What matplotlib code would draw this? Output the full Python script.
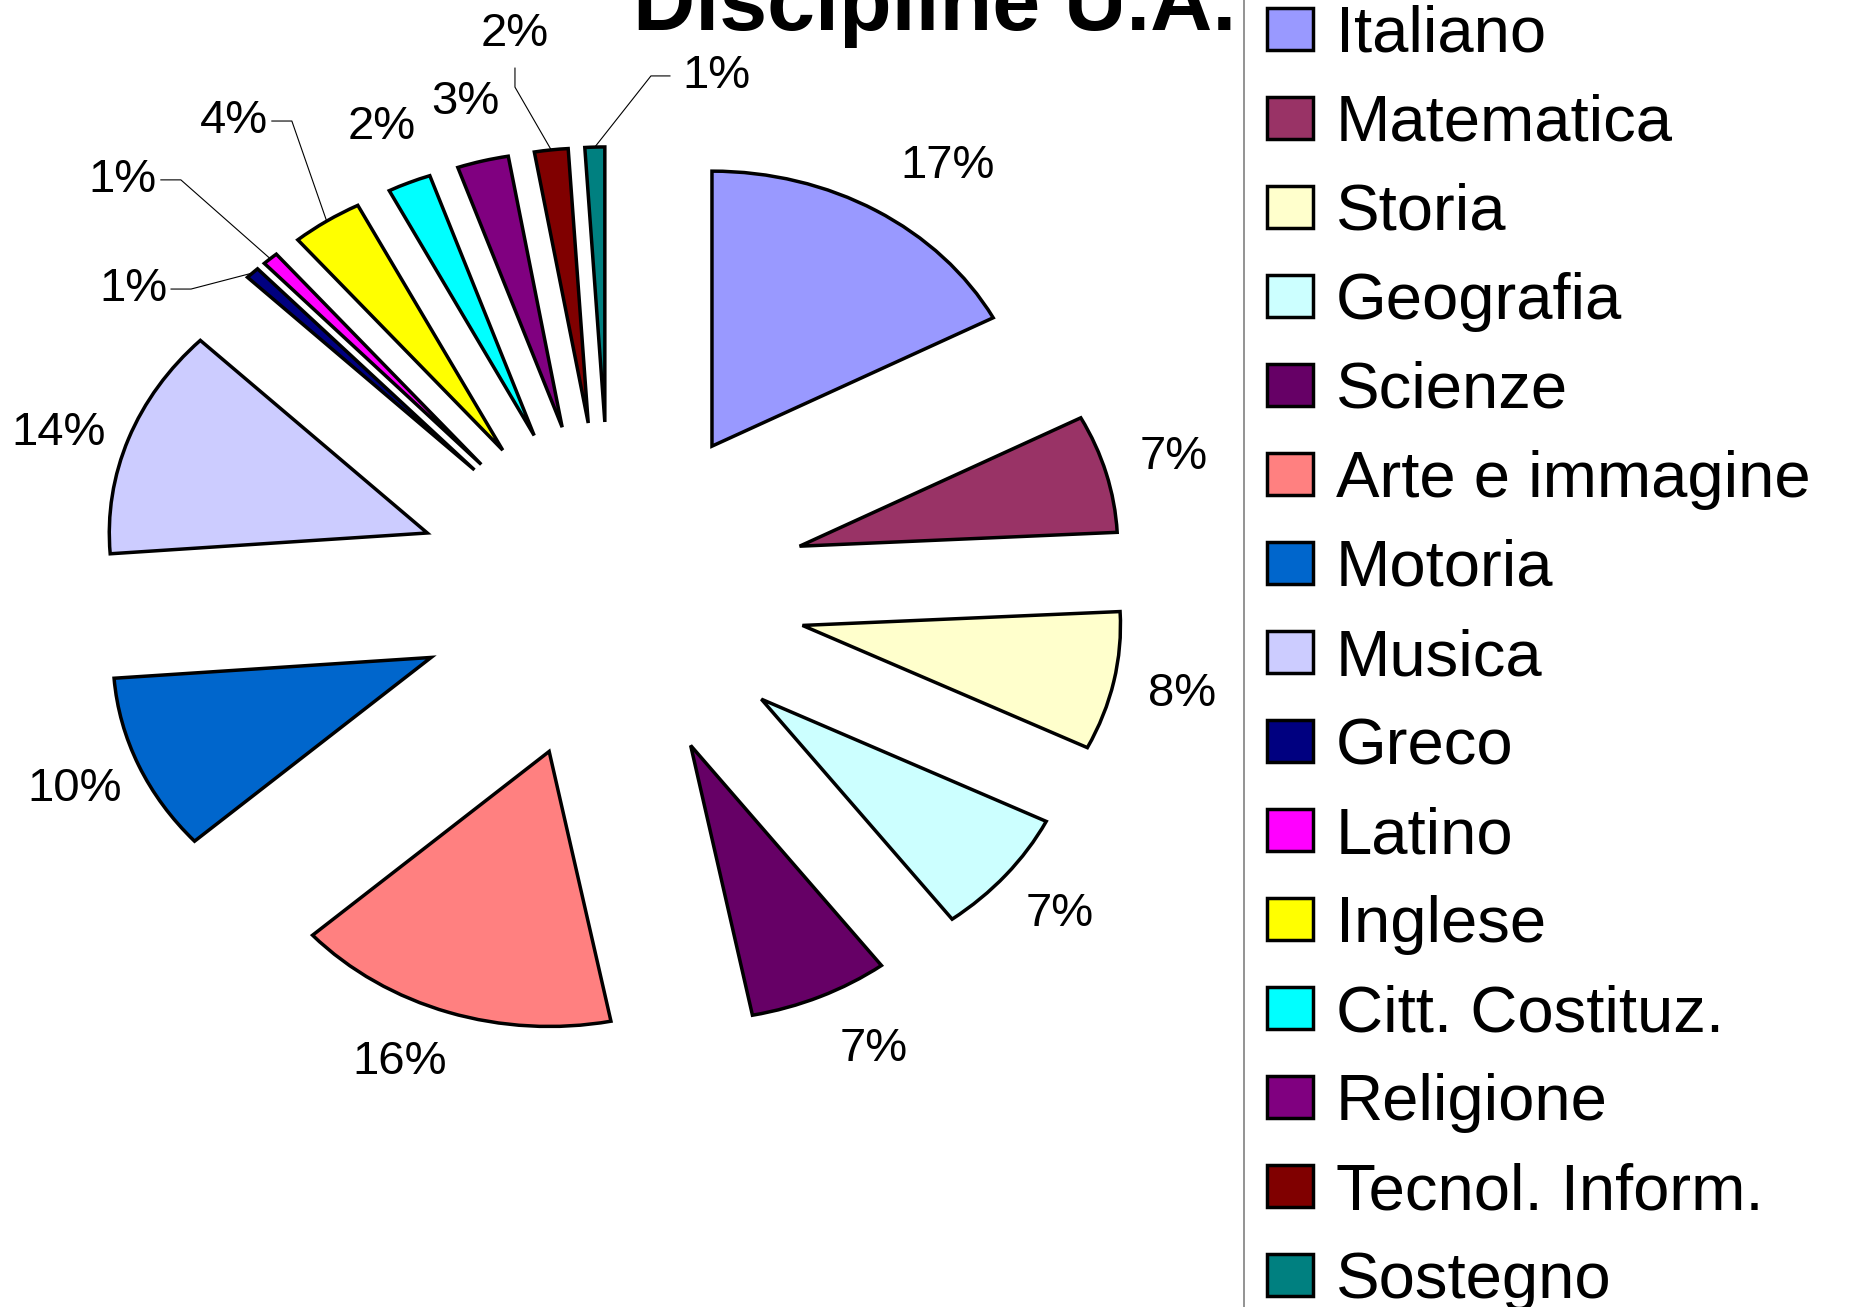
from matplotlib import pyplot as plt
from matplotlib.lines import Line2D
import numpy as np

materie = ['Italiano', 'Matematica', 'Storia', 'Geografia', 'Scienze',
           'Arte e immagine', 'Motoria', 'Musica', 'Greco', 'Latino',
           'Inglese', 'Citt. Costituz.', 'Religione', 'Tecnol. Inform.', 'Sostegno']
quote = [17.2, 6.9, 8.1, 7.4, 7.1, 16.4, 10.4, 13.5, 0.7, 0.8, 3.6, 2.2, 2.6, 1.7, 1.0]
colori = ['#9999FF', '#993366', '#FFFFCC', '#CCFFFF', '#660066', '#FF8080', '#0066CC',
          '#CCCCFF', '#000080', '#FF00FF', '#FFFF00', '#00FFFF', '#800080', '#800000', '#008080']

# etichette spostate a mano: posizione (unita' dati) e lato della linea di richiamo
richiami = {
    'Italiano': (1.057, 1.545, None),
    'Scienze': (0.827, -1.665, None),
    'Arte e immagine': (-0.664, -1.713, None),
    'Musica': (-1.736, 0.575, None),
    'Greco': (-1.503, 1.098, 'dx'),
    'Latino': (-1.535, 1.495, 'dx'),
    'Inglese': (-1.186, 1.709, 'dx'),
    'Tecnol. Inform.': (-0.302, 2.025, 'giu'),
    'Sostegno': (0.330, 1.873, 'sx'),
}

plt.rcParams['font.family'] = ['Liberation Sans', 'DejaVu Sans']

W, H = 1857, 1307
fig = plt.figure(figsize=(W / 100, H / 100), dpi=100)
ax = fig.add_axes([0, 0, 1, 1])

wedges, texts, pcts = ax.pie(quote, colors=colori, startangle=90, counterclock=False,
                             explode=[0.615] * len(quote), autopct='%1.0f%%',
                             pctdistance=1.22,
                             wedgeprops=dict(edgecolor='black', linewidth=2.5),
                             textprops=dict(fontsize=34, color='black'))

# torta allargata in orizzontale come l'originale (px per unita')
cx, cy, sx, sy = 611, 591, 318, 275
ax.set_xlim(-cx / sx, (W - cx) / sx)
ax.set_ylim((cy - H) / sy, cy / sy)
ax.set_aspect('auto')
ax.axis('off')

for nome, (lx, ly, lato) in richiami.items():
    i = materie.index(nome)
    pcts[i].set_position((lx, ly))
    if lato is None:
        continue
    w = wedges[i]
    t = np.deg2rad((w.theta1 + w.theta2) / 2)
    arco = (w.center[0] + w.r * np.cos(t), w.center[1] + w.r * np.sin(t))
    if lato == 'dx':
        p1, p2 = (lx + 38 / sx, ly), (lx + 58 / sx, ly)
    elif lato == 'sx':
        p1, p2 = (lx - 46 / sx, ly), (lx - 65 / sx, ly)
    else:
        p1, p2 = (lx, ly - 34 / sy), (lx, ly - 53 / sy)
    ax.plot([p1[0], p2[0], arco[0]], [p1[1], p2[1], arco[1]], color='black', lw=0.8)

ax.legend(wedges, materie, loc='upper left', bbox_to_anchor=(1267 / W, 1 - 4.7 / H),
          bbox_transform=fig.transFigure, frameon=False, fontsize=47,
          handlelength=0.70, handleheight=0.61, handletextpad=0.35,
          labelspacing=0.445, borderpad=0, borderaxespad=0)

fig.add_artist(Line2D([1244 / W, 1244 / W], [0, 1], color='#808080', lw=1.2,
                      transform=fig.transFigure))
fig.text(935 / W, 1 - 30 / H, 'Discipline U.A.', ha='center', va='baseline',
         fontsize=62, fontweight='bold')

fig.savefig('out.png', dpi=100)
